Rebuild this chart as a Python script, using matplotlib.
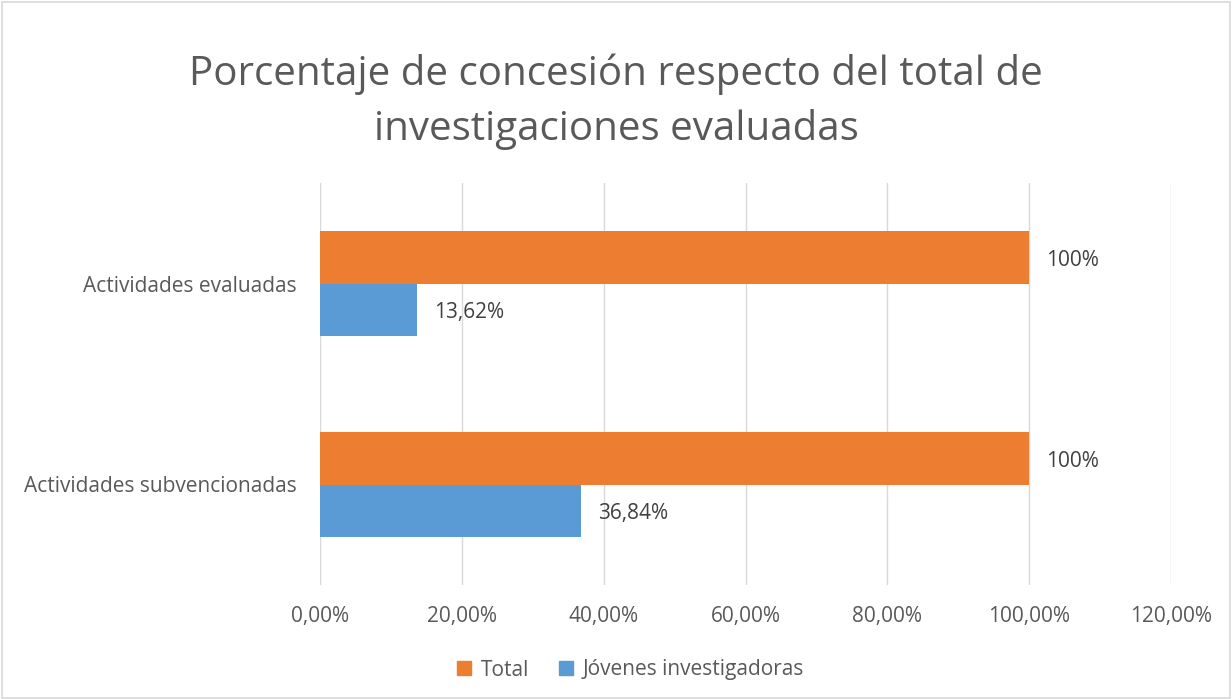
import matplotlib
matplotlib.use("Agg")
import matplotlib.pyplot as plt
from matplotlib.patches import Rectangle
from matplotlib.lines import Line2D

categories = ["Actividades subvencionadas", "Actividades evaluadas"]
total_vals = [100, 100]
jovenes_vals = [36.84, 13.62]
total_labels = ["100%", "100%"]
jovenes_labels = ["36,84%", "13,62%"]
xticks = [0, 20, 40, 60, 80, 100, 120]
xtick_labels = ["0,00%", "20,00%", "40,00%", "60,00%", "80,00%", "100,00%", "120,00%"]

ORANGE = "#ED7D31"
BLUE = "#5B9BD5"
GRAY = "#595959"
FONT = "Open Sans"
FS = 15

fig = plt.figure(figsize=(12.32, 6.99), dpi=100)
fig.patches.append(Rectangle((0.002, 0.002), 0.996, 0.995, transform=fig.transFigure,
                             fill=False, edgecolor="#d9d9d9", linewidth=1.2))
ax = fig.add_axes([320/1232, 1-585/699, (1171-320)/1232, (585-183)/699])

h = 0.26
ys = list(range(len(categories)))
ax.barh([y + h/2 for y in ys], total_vals, height=h, color=ORANGE, zorder=3, label="Total")
ax.barh([y - h/2 for y in ys], jovenes_vals, height=h, color=BLUE, zorder=3, label="Jóvenes investigadoras")

for y, v, l in zip(ys, total_vals, total_labels):
    ax.annotate(l, (v, y + h/2), xytext=(17, -3), textcoords="offset pixels",
                va="center", ha="left", fontsize=FS, color="#404040", family=FONT)
for y, v, l in zip(ys, jovenes_vals, jovenes_labels):
    ax.annotate(l, (v, y - h/2), xytext=(17, -3), textcoords="offset pixels",
                va="center", ha="left", fontsize=FS, color="#404040", family=FONT)

ax.set_xlim(0, 120)
ax.set_ylim(-0.5, 1.5)
ax.set_xticks(xticks)
ax.set_xticklabels(xtick_labels, fontsize=FS, color=GRAY, family=FONT)
ax.set_yticks(ys)
ax.set_yticklabels(categories, fontsize=FS, color=GRAY, family=FONT)
ax.tick_params(axis="both", length=0)
ax.tick_params(axis="x", pad=15)
ax.tick_params(axis="y", pad=17)
ax.grid(axis="x", color="#d9d9d9", linewidth=1, zorder=0)
for s in ax.spines.values():
    s.set_visible(False)

fig.text(0.5, 1-85/699, "Porcentaje de concesión respecto del total de", ha="center", va="baseline",
         fontsize=29, color=GRAY, family=FONT)
fig.text(0.5, 1-140/699, "investigaciones evaluadas", ha="center", va="baseline",
         fontsize=29, color=GRAY, family=FONT)

handles = [Line2D([], [], marker="s", linestyle="none", markersize=10, color=ORANGE),
           Line2D([], [], marker="s", linestyle="none", markersize=10, color=BLUE)]
fig.legend(handles, ["Total", "Jóvenes investigadoras"], loc="center",
           bbox_to_anchor=(0.5 + 10/1232, 1-670/699),
           ncol=2, frameon=False, prop={"family": FONT, "size": FS}, labelcolor=GRAY,
           handletextpad=0.05, columnspacing=1.0, handlelength=1.5)

fig.savefig("out.png", dpi=100)
